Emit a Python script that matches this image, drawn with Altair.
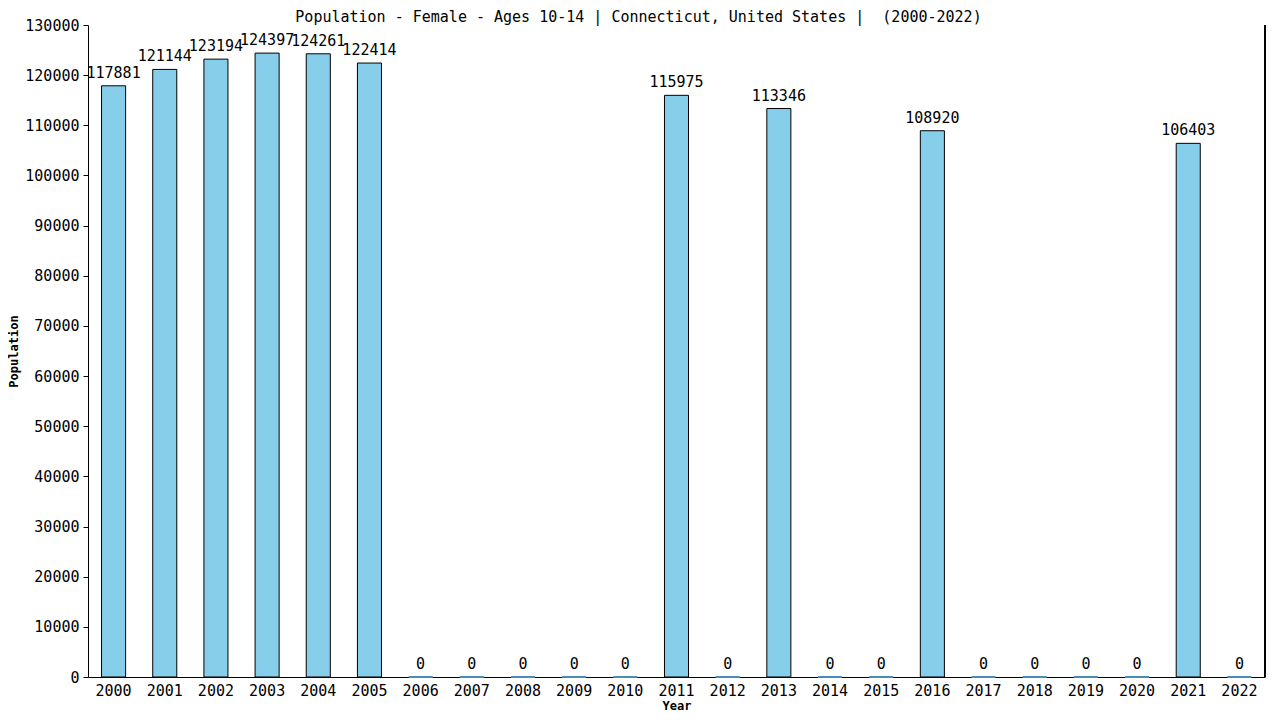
import altair as alt
import pandas as pd

years = [str(y) for y in range(2000, 2023)]
values = [117881, 121144, 123194, 124397, 124261, 122414, 0, 0, 0, 0, 0,
          115975, 0, 113346, 0, 0, 108920, 0, 0, 0, 0, 106403, 0]
y_ticks = list(range(0, 130001, 10000))
title_text = ["Population - Female - Ages 10-14 | Connecticut, United States |\u00a0 (2000-2022)"]

df = pd.DataFrame({"Year": years, "Population": values})
df_title = pd.DataFrame({"t": title_text})

W, H = 1177, 652
FONT = "DejaVu Sans Mono"

base = alt.Chart(df)

bars = base.mark_bar(fill="#87CEEB").encode(
    x=alt.X("Year:N", sort=years,
            scale=alt.Scale(paddingInner=0.53, paddingOuter=0.265),
            axis=alt.Axis(title="Year", labelAngle=0, ticks=False, labelPadding=6,
                          labelFont=FONT, labelFontSize=15, labelColor="black",
                          titleFont=FONT, titleFontSize=12, titleFontWeight="bold",
                          titleColor="black", titleY=28, titleBaseline="middle",
                          domainColor="black", domainWidth=1)),
    y=alt.Y("Population:Q",
            scale=alt.Scale(domain=[0, 130000], nice=False),
            axis=alt.Axis(title="Population", values=y_ticks, grid=False,
                          tickSize=5, tickColor="black", labelPadding=4,
                          labelFont=FONT, labelFontSize=15, labelColor="black",
                          titleFont=FONT, titleFontSize=12, titleFontWeight="bold",
                          titleColor="black", titleX=-75, titleY=H / 2,
                          titleAngle=-90, titleBaseline="middle", titleAlign="center",
                          domainColor="black", domainWidth=1, format="d")),
    stroke=alt.condition(alt.datum.Population > 0, alt.value("black"), alt.value("#4a8db7")),
    strokeWidth=alt.condition(alt.datum.Population > 0, alt.value(1), alt.value(2)),
)

labels = base.mark_text(baseline="bottom", dy=-5, font=FONT, fontSize=15, color="black").encode(
    x=alt.X("Year:N", sort=years),
    y=alt.Y("Population:Q"),
    text=alt.Text("Population:Q", format="d"),
)

border = base.mark_rule(color="black", strokeWidth=1).encode(
    x=alt.value(W), y=alt.value(0), y2=alt.value(H)
)

title = alt.Chart(df_title).mark_text(
    font=FONT, fontSize=15, color="black", align="center", baseline="top"
).encode(
    x=alt.value(W / 2 - 38), y=alt.value(-15), text="t:N"
)

chart = alt.layer(bars, labels, border, title).properties(
    width=W, height=H,
    autosize=alt.AutoSizeParams(type="none"),
    padding={"left": 80, "top": 17, "right": 7, "bottom": 35},
).configure(background="white").configure_view(strokeWidth=0, stroke="transparent")

chart.save("out.html", embed_options={"renderer": "svg", "actions": False})
